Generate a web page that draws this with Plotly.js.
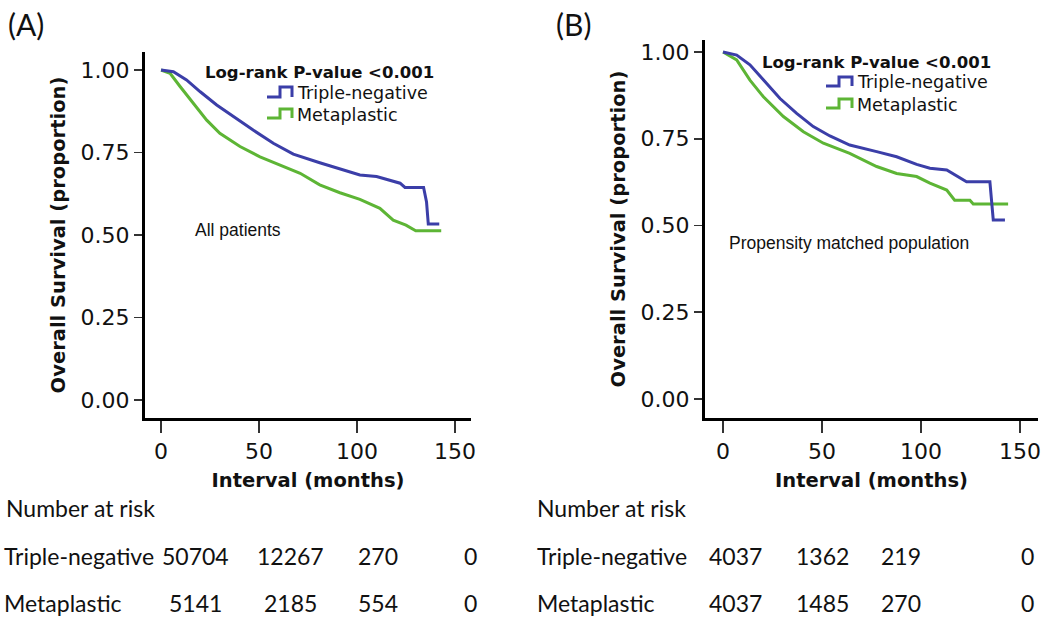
<!DOCTYPE html>
<html>
<head>
<meta charset="utf-8">
<script src="https://cdn.plot.ly/plotly-3.0.1.min.js"></script>
<style>
html,body{margin:0;padding:0;background:#fff;}
#chart{width:1053px;height:618px;}
</style>
</head>
<body>
<div id="chart"></div>
<script>
// ---------- data ----------
// Panel A: all patients
const A_tn_t = [0, 6.3, 13, 20, 28.4, 36.9, 47, 57.3, 67.5, 81, 91, 101.5, 110, 116, 122, 124.5, 134, 135.5, 136.4, 142];
const A_tn_s = [1.0, 0.995, 0.97, 0.934, 0.894, 0.859, 0.818, 0.778, 0.745, 0.719, 0.702, 0.682, 0.677, 0.667, 0.657, 0.644, 0.644, 0.60, 0.533, 0.533];
const A_mp_t = [0, 4.6, 9.7, 16.5, 23.3, 30, 40.3, 50.5, 60.7, 71, 81, 91.3, 101.5, 111.7, 118.5, 125, 130, 143];
const A_mp_s = [1.0, 0.99, 0.95, 0.90, 0.848, 0.808, 0.768, 0.737, 0.712, 0.687, 0.652, 0.628, 0.608, 0.581, 0.545, 0.53, 0.513, 0.513];
// Panel B: propensity matched population
const B_tn_t = [0, 6.9, 13.6, 20.4, 28.8, 37.2, 45.6, 54, 64, 77.6, 87.7, 97.8, 104.5, 113, 117, 123, 134.8, 135.7, 136.5, 142.4];
const B_tn_s = [1.0, 0.991, 0.963, 0.919, 0.866, 0.823, 0.785, 0.758, 0.732, 0.713, 0.698, 0.676, 0.665, 0.66, 0.646, 0.626, 0.626, 0.578, 0.516, 0.516];
const B_mp_t = [0, 6.9, 13.6, 20.4, 30.5, 40.6, 50.7, 64, 77.6, 87.7, 97.8, 104.5, 113, 117, 124.7, 126.4, 144];
const B_mp_s = [1.0, 0.977, 0.919, 0.871, 0.814, 0.77, 0.737, 0.708, 0.67, 0.65, 0.641, 0.622, 0.602, 0.573, 0.573, 0.562, 0.562];

const seriesNames = ["Triple-negative", "Metaplastic"];
const xTicks = [0, 50, 100, 150];
const yTicks = [0, 0.25, 0.5, 0.75, 1.0];
const yTickText = ["0.00", "0.25", "0.50", "0.75", "1.00"];
const pText = "Log-rank P-value <0.001";
const panelLabels = ["(A)", "(B)"];
const panelNotes = ["All patients", "Propensity matched population"];
const riskHeader = "Number at risk";
const riskA_tn = ["50704", "12267", "270", "0"];
const riskA_mp = ["5141", "2185", "554", "0"];
const riskB_tn = ["4037", "1362", "219", "0"];
const riskB_mp = ["4037", "1485", "270", "0"];

// ---------- styling ----------
const W = 1053, H = 618;
const px = v => v / W;
const py = v => 1 - v / H;
const BLUE = "#3b3ea8", GREEN = "#5db535";
const SANS = "DejaVu Sans, sans-serif";
const ARIAL = "Liberation Sans, Arial, sans-serif";
const TABLE = "Lato, Open Sans, sans-serif";

function curve(x, y, name, color, xa, ya) {
  return {x: x, y: y, name: name, type: "scatter", mode: "lines",
    line: {color: color, width: 3, shape: "linear"},
    xaxis: xa, yaxis: ya, showlegend: false, hoverinfo: "x+y+name"};
}

const data = [
  curve(A_mp_t, A_mp_s, seriesNames[1], GREEN, "x", "y"),
  curve(A_tn_t, A_tn_s, seriesNames[0], BLUE, "x", "y"),
  curve(B_mp_t, B_mp_s, seriesNames[1], GREEN, "x2", "y2"),
  curve(B_tn_t, B_tn_s, seriesNames[0], BLUE, "x2", "y2")
];

function xAxis(domain, range, anchor) {
  return {domain: domain, range: range, anchor: anchor,
    tickvals: xTicks, ticktext: xTicks.map(String),
    showgrid: false, zeroline: false, showline: true, linewidth: 3, linecolor: "#000",
    ticks: "outside", ticklen: 12, tickwidth: 1.5, tickcolor: "#333",
    tickfont: {family: SANS, size: 22, color: "#111"},
    title: {text: "Interval (months)", font: {family: SANS, size: 19.5, weight: "bold", color: "#111"}, standoff: 10},
    automargin: false, fixedrange: true};
}
function yAxis(domain, range, anchor) {
  return {domain: domain, range: range, anchor: anchor,
    tickvals: yTicks, ticktext: yTickText,
    showgrid: false, zeroline: false, showline: true, linewidth: 3, linecolor: "#000",
    ticks: "outside", ticklen: 8, tickwidth: 1.5, tickcolor: "#333",
    tickfont: {family: SANS, size: 22, color: "#111"},
    title: {text: "Overall Survival (proportion)", font: {family: SANS, size: 19.5, weight: "bold", color: "#111"}, standoff: 10},
    automargin: false, fixedrange: true};
}

const annotations = [];
const shapes = [];
function txt(x, y, text, font, xanchor) {
  annotations.push({xref: "paper", yref: "paper", x: px(x), y: py(y), text: text,
    showarrow: false, xanchor: xanchor || "left", yanchor: "middle", font: font});
}
function stepIcon(x0, x1, xm, yTop, yBot, color) {
  // small Kaplan-Meier style legend glyph
  const path = `M ${px(x0)} ${py(yBot)} L ${px(xm)} ${py(yBot)} L ${px(xm)} ${py(yTop)} L ${px(x1)} ${py(yTop)} L ${px(x1)} ${py(yBot)}`;
  shapes.push({type: "path", xref: "paper", yref: "paper", path: path, line: {color: color, width: 3}});
}

// panel labels
txt(6, 24, panelLabels[0], {family: TABLE, size: 30, color: "#111"});
txt(554, 24, panelLabels[1], {family: TABLE, size: 30, color: "#111"});

// panel A in-plot texts
txt(203, 73, pText, {family: SANS, size: 16.5, weight: "bold", color: "#111"});
txt(295, 93, seriesNames[0], {family: SANS, size: 17.5, color: "#111"});
txt(295, 115, seriesNames[1], {family: SANS, size: 17.5, color: "#111"});
stepIcon(267, 292, 280, 87, 97, BLUE);
stepIcon(267, 292, 280, 109, 118, GREEN);
txt(193, 230, panelNotes[0], {family: ARIAL, size: 17.5, color: "#111"});

// panel B in-plot texts
txt(760, 62, pText, {family: SANS, size: 16.5, weight: "bold", color: "#111"});
txt(855, 82, seriesNames[0], {family: SANS, size: 17.5, color: "#111"});
txt(855, 105, seriesNames[1], {family: SANS, size: 17.5, color: "#111"});
stepIcon(826, 852, 839, 77, 86, BLUE);
stepIcon(826, 852, 839, 99, 108, GREEN);
txt(727, 243, panelNotes[1], {family: ARIAL, size: 17.5, color: "#111"});

// number at risk tables
const TF = {family: TABLE, size: 23, color: "#111"};
const rowY = [508, 556, 603];
const colA = [195, 290, 378, 470];
const colB = [735, 822, 901, 1027];
txt(157, rowY[0], riskHeader, TF, "right");
txt(2, rowY[1], seriesNames[0], TF, "left");
txt(124, rowY[2], seriesNames[1], TF, "right");
riskA_tn.forEach((v, i) => txt(colA[i], rowY[1], v, TF, "center"));
riskA_mp.forEach((v, i) => txt(colA[i], rowY[2], v, TF, "center"));
txt(535, rowY[0], riskHeader, TF, "left");
txt(535, rowY[1], seriesNames[0], TF, "left");
txt(535, rowY[2], seriesNames[1], TF, "left");
riskB_tn.forEach((v, i) => txt(colB[i], rowY[1], v, TF, "center"));
riskB_mp.forEach((v, i) => txt(colB[i], rowY[2], v, TF, "center"));

const layout = {
  width: W, height: H,
  margin: {l: 0, r: 0, t: 0, b: 0},
  paper_bgcolor: "#fff", plot_bgcolor: "#fff",
  showlegend: false,
  xaxis: xAxis([px(145), px(471)], [-8.2, 158.2], "y"),
  yaxis: yAxis([1 - 418 / H, 1 - 52 / H], [-0.0545, 1.0545], "x"),
  xaxis2: xAxis([px(705), px(1038)], [-9.1, 159.1], "y2"),
  yaxis2: yAxis([1 - 418 / H, 1 - 40 / H], [-0.0548, 1.0346], "x2"),
  annotations: annotations,
  shapes: shapes
};

Plotly.newPlot("chart", data, layout, {displayModeBar: false, staticPlot: true});
</script>
</body>
</html>
